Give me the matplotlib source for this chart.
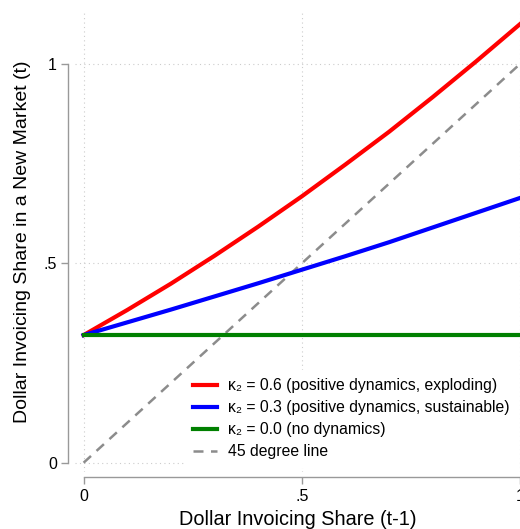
import numpy as np
import matplotlib
matplotlib.use("Agg")
import matplotlib.pyplot as plt

plt.rcParams['font.family'] = ['Liberation Sans', 'DejaVu Sans']

# lagged dollar invoicing share
share_lag = [0.0, 0.1, 0.2, 0.3, 0.4, 0.5, 0.6, 0.7, 0.8, 0.9, 1.0]
# current share under each kappa_2
share_k06 = [0.320, 0.383, 0.449, 0.519, 0.592, 0.668, 0.748, 0.830, 0.917, 1.007, 1.100]
share_k03 = [0.320, 0.352, 0.384, 0.417, 0.450, 0.484, 0.518, 0.553, 0.590, 0.627, 0.664]
share_k00 = [0.320, 0.320, 0.320, 0.320, 0.320, 0.320, 0.320, 0.320, 0.320, 0.320, 0.320]
line45 = [0.0, 1.0]

labels = ["\u03ba\u2082 = 0.6 (positive dynamics, exploding)",
          "\u03ba\u2082 = 0.3 (positive dynamics, sustainable)",
          "\u03ba\u2082 = 0.0 (no dynamics)",
          "45 degree line"]
ticks = [0, 0.5, 1]
tick_labels = ["0", ".5", "1"]


def main():
    fig = plt.figure(figsize=(5.2, 5.29), dpi=100)
    ax = fig.add_axes([0.144, 0.108, 0.856, 0.869])

    ax.plot(share_lag, share_k06, color="#ff0000", lw=3.0, label=labels[0], zorder=3)
    ax.plot(share_lag, share_k03, color="#0000ff", lw=3.0, label=labels[1], zorder=3)
    ax.plot(share_lag, share_k00, color="#008000", lw=3.0, label=labels[2], zorder=3)
    ax.plot(line45, line45, color="#8c8c8c", lw=1.8, ls=(0, (4, 3)),
            label=labels[3], zorder=2)

    ax.set_xlim(-0.02, 1.0)
    ax.set_ylim(-0.023, 1.13)

    ax.set_xticks(ticks)
    ax.set_xticklabels(tick_labels)
    ax.set_yticks(ticks)
    ax.set_yticklabels(tick_labels)
    ax.tick_params(direction="out", length=5, width=1, color="#999999",
                   labelsize=11.5, labelcolor="black", pad=3)

    for s in ["top", "right"]:
        ax.spines[s].set_visible(False)
    ax.spines["left"].set_position(("outward", 5))
    ax.spines["bottom"].set_position(("outward", 4))
    ax.spines["left"].set_bounds(0, 1)
    ax.spines["bottom"].set_bounds(0, 1)
    for s in ["left", "bottom"]:
        ax.spines[s].set_color("#999999")
        ax.spines[s].set_linewidth(1)

    ax.grid(True, ls=(0, (1, 3)), color="#cccccc", lw=0.8)
    ax.set_axisbelow(True)

    ax.set_xlabel("Dollar Invoicing Share (t-1)", fontsize=14.3, labelpad=5)
    ax.set_ylabel("Dollar Invoicing Share in a New Market (t)", fontsize=14, labelpad=9)

    leg = ax.legend(loc="lower right", bbox_to_anchor=(0.995, 0.01), fontsize=11.3,
                    frameon=True, fancybox=False, edgecolor="white",
                    framealpha=1.0, handlelength=1.5, handletextpad=0.75,
                    labelspacing=0.45, borderaxespad=0.0, borderpad=0.5)
    leg.set_zorder(5)

    fig.savefig("out.png", dpi=100)


if __name__ == "__main__":
    main()
